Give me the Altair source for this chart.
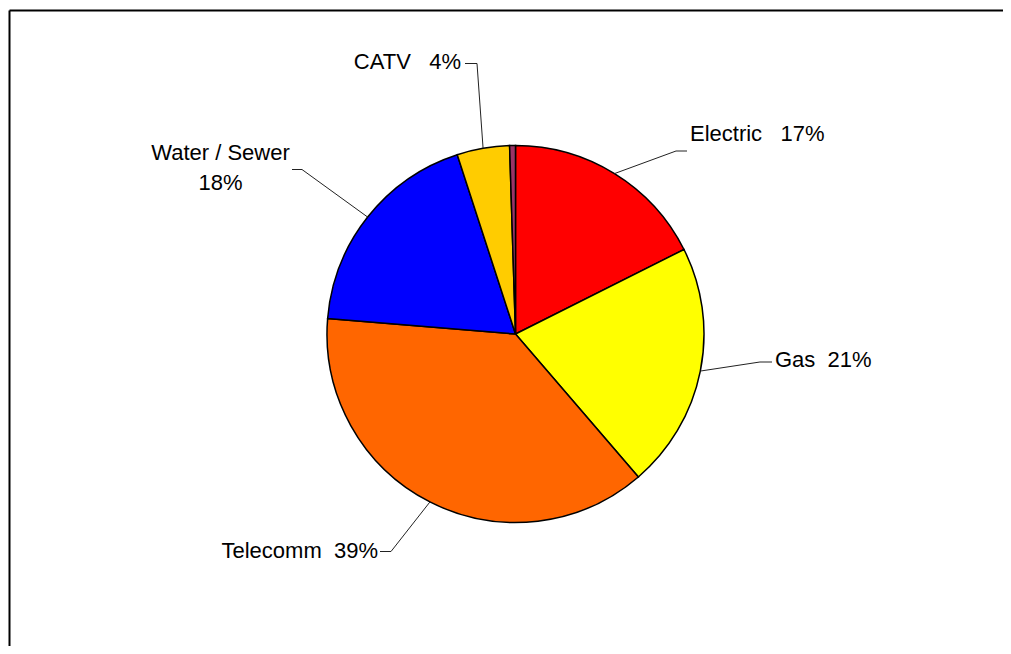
import altair as alt
import pandas as pd

# ---- data ----
categories = ["Electric", "Gas", "Telecomm", "Water / Sewer", "CATV", "Other"]
shares = [17.6, 21.1, 37.6, 18.7, 4.5, 0.5]
NB = "\u00a0"
label_texts = [
    "Electric" + NB * 3 + "17%",
    "Gas" + NB * 2 + "21%",
    "Telecomm" + NB * 2 + "39%",
    "Water / Sewer\n18%",
    "CATV" + NB * 3 + "4%",
    "",
]
colors = ["#FF0000", "#FFFF00", "#FF6600", "#0000FF", "#FFCC00", "#993366"]

# ---- label / leader layout (page pixels) ----
label_x = [690, 775, 378, 220.5, 461, 0]
label_y = [134, 360, 550.5, 153, 62, 0]
label_align = ["left", "left", "right", "center", "right", "none"]
elbow_x = [676, 760, 391, 302, 477, 0]
elbow_y = [151, 362, 551.5, 169.5, 63.5, 0]
end_x = [687, 772, 380, 292, 465, 0]
end_y = [151, 362, 551.5, 169.5, 63.5, 0]

CX, CY, R = 515.5, 334.0, 188.5
W, H = 995, 638
FONT = "Liberation Sans"
FS = 22

df = pd.DataFrame({
    "idx": list(range(len(categories))),
    "category": categories,
    "share": shares,
    "label": label_texts,
    "lx": label_x, "ly": label_y, "align": label_align,
    "bx": elbow_x, "by": elbow_y, "ex": end_x, "ey": end_y,
})

xs = alt.Scale(domain=[8, 8 + W], nice=False, zero=False)
ys = alt.Scale(domain=[8, 8 + H], nice=False, zero=False, reverse=True)

base = alt.Chart(df)

pie = base.mark_arc(radius=R, stroke="black", strokeWidth=1.5).encode(
    theta=alt.Theta("share:Q", stack=True),
    color=alt.Color("category:N", scale=alt.Scale(domain=categories, range=colors), legend=None),
    order=alt.Order("idx:Q"),
    x=alt.value(CX - 8),
    y=alt.value(CY - 8),
)

lead = base.transform_window(
    cum="sum(share)", sort=[alt.SortField("idx")], frame=[None, 0]
).transform_joinaggregate(
    total="sum(share)"
).transform_calculate(
    mid="(datum.cum - datum.share / 2) / datum.total * 2 * PI",
).transform_calculate(
    sx=f"{CX} + {R} * sin(datum.mid)",
    sy=f"{CY} - {R} * cos(datum.mid)",
).transform_filter("datum.label != ''")

seg1 = lead.mark_rule(color="#222222", strokeWidth=1).encode(
    x=alt.X("sx:Q", scale=xs, axis=None),
    y=alt.Y("sy:Q", scale=ys, axis=None),
    x2="bx:Q", y2="by:Q",
)
seg2 = lead.mark_rule(color="#222222", strokeWidth=1).encode(
    x=alt.X("bx:Q", scale=xs, axis=None),
    y=alt.Y("by:Q", scale=ys, axis=None),
    x2="ex:Q", y2="ey:Q",
)

def labels(al):
    return base.transform_filter(f"datum.align == '{al}'").mark_text(
        align=al, baseline="middle", font=FONT, fontSize=FS, color="black",
        lineBreak="\n", lineHeight=29.5,
    ).encode(
        x=alt.X("lx:Q", scale=xs, axis=None),
        y=alt.Y("ly:Q", scale=ys, axis=None),
        text="label:N",
    )

frame_df = pd.DataFrame({"x1": [9.5, 9.5], "y1": [10.5, 10.5], "x2": [8 + W, 9.5], "y2": [10.5, 8 + H]})
frame = alt.Chart(frame_df).mark_rule(color="black", strokeWidth=2).encode(
    x=alt.X("x1:Q", scale=xs, axis=None),
    y=alt.Y("y1:Q", scale=ys, axis=None),
    x2="x2:Q", y2="y2:Q",
)

chart = alt.layer(
    frame, pie, seg1, seg2, labels("left"), labels("right"), labels("center")
).properties(
    width=W, height=H, padding=0, autosize=alt.AutoSizeParams(type="none")
).configure_view(stroke=None)

chart.save("out.html", embed_options={"renderer": "svg", "actions": False})
